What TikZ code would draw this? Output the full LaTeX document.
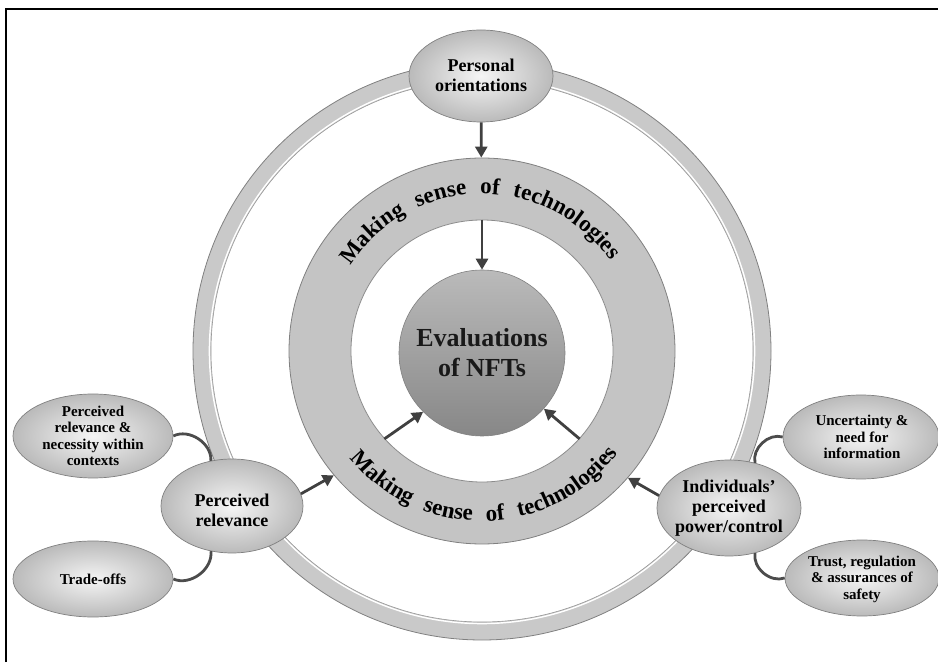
\documentclass[tikz,border=0pt]{standalone}
\usepackage{fontspec}
\setmainfont{Liberation Serif}
\usetikzlibrary{shapes.geometric,arrows.meta,decorations.text,calc}
\begin{document}
\begin{tikzpicture}[x=1pt,y=1pt,
  oval/.style={ellipse, inner sep=0pt, draw=black!50, line width=0.7pt, inner color=black!4, outer color=black!27},
  lbl/.style={align=center, font=\bfseries\fontsize{18}{20}\selectfont, text=black, inner sep=0pt},
  slbl/.style={align=center, font=\bfseries\fontsize{15}{16.5}\selectfont, text=black, inner sep=0pt},
  arr/.style={draw=black!75, line width=2.8pt, -{Triangle[length=11pt,width=12pt]}},
  link/.style={draw=black!70, line width=2.8pt},
  annot/.style={decorate, decoration={text along path, text align=fit to path stretching spaces,
      text={|\bfseries\fontsize{23}{23}\selectfont|Making sense of technologies}}}
]
\useasboundingbox (0,0) rectangle (938,662);
\draw[line width=2pt] (6,0) -- (6,653) -- (938,653);

\coordinate (C) at (482,311);
% outer ring
\draw[black!21, line width=18pt] (C) circle[radius=280pt];
\draw[black!50, line width=0.8pt] (C) circle[radius=289pt];
\draw[black!40, line width=0.6pt] (C) circle[radius=271pt];
\draw[white, line width=1.4pt] (C) circle[radius=272.6pt];

% annulus
\node[circle, minimum size=386pt, inner sep=0pt, fill=black!23, draw=black!50, line width=0.8pt] (ring) at (C) {};
\node[circle, minimum size=262pt, inner sep=0pt, fill=white, draw=black!45, line width=0.8pt] (hole) at (C) {};
\node[circle, minimum size=166pt, inner sep=0pt, top color=black!27, bottom color=black!47, draw=black!50, line width=0.6pt,
  align=center, font=\bfseries\fontsize{26}{30}\selectfont, text=black!90] (eval) at (482,309) {Evaluations\\of NFTs};

\path[annot] ($(C)+(147:157pt)$) arc[start angle=147, end angle=35, radius=157pt];
\path[annot] ($(C)+(219:170pt)$) arc[start angle=219, end angle=323, radius=170pt];

% outer nodes
\node[oval, minimum width=144pt, minimum height=92pt] (po) at (481,586) {};
\node[lbl] (pot) at (481,587) {Personal\\orientations};

\node[oval, minimum width=142pt, minimum height=94pt] (pr) at (232,156) {};
\node[lbl] (prt) at (232,152) {Perceived\\relevance};

\node[oval, minimum width=160pt, minimum height=84pt] (prn) at (93,226) {};
\node[slbl] (prnt) at (93,226) {Perceived\\relevance \&\\necessity within\\contexts};

\node[oval, minimum width=160pt, minimum height=76pt] (tro) at (93,83) {};
\node[slbl] (trot) at (93,83) {Trade-offs};

\node[oval, minimum width=144pt, minimum height=96pt] (ippc) at (729,154) {};
\node[lbl] (ippct) at (729,154) {Individuals'\\perceived\\power/control};

\node[oval, minimum width=156pt, minimum height=84pt] (uni) at (861,225) {};
\node[slbl] (unit) at (862,225) {Uncertainty \&\\need for\\information};

\node[oval, minimum width=154pt, minimum height=76pt] (tras) at (862,84) {};
\node[slbl] (trast) at (862,83) {Trust, regulation\\\& assurances of\\safety};

% arrows
\draw[arr] (po) -- (ring);
\draw[arr] (hole.90) -- (eval);
\draw[arr] (pr.10) -- (ring.220);
\draw[arr] (hole.222) -- (eval.225);
\draw[arr] (ippc.170) -- (ring.319);
\draw[arr] (hole.318) -- (eval.318);

% links
\draw[link] (prn.east) to[bend left=60] (pr.115);
\draw[link] (tro.east) to[bend right=60] (pr.245);
\draw[link] (uni.west) to[bend right=60] (ippc.60);
\draw[link] (tras.west) to[bend left=60] (ippc.300);
\end{tikzpicture}
\end{document}
